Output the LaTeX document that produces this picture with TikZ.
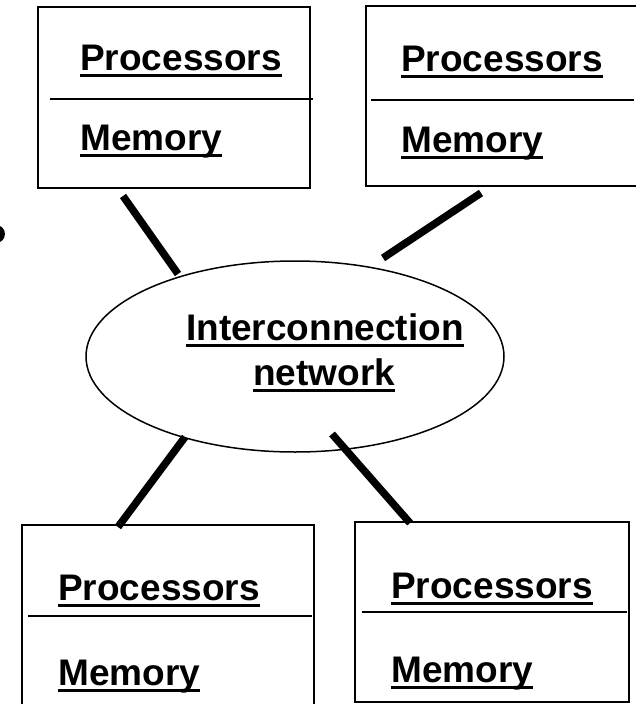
\documentclass[tikz,border=0pt]{standalone}
\usepackage{fontspec}
\setmainfont{Liberation Sans}
\usetikzlibrary{shapes.geometric}
% bold text with a heavy underline, as in the slide
\newcommand\heavyul[1]{\setbox0=\hbox{#1}\rlap{\rule[-7pt]{\wd0}{3.5pt}}\box0}
\tikzset{
  unitbox/.style={draw, line width=2pt, rectangle, inner sep=0pt},
  divider/.style={line width=1.7pt},
  label/.style={anchor=base west, inner sep=0pt, font=\fontsize{37}{44}\selectfont\bfseries},
  link/.style={line width=7.5pt, line cap=butt},
  netshape/.style={draw, ellipse, line width=1.5pt, inner sep=0pt,
    minimum width=418pt, minimum height=191pt}
}
\begin{document}
\begin{tikzpicture}[x=1pt, y=-1pt]
\useasboundingbox (0,0) rectangle (636,704);
\clip (0,0) rectangle (636,704);

% partial mark at the left edge
\fill (-4,234) circle (9);

% processor/memory units
\node[unitbox, minimum width=272pt, minimum height=181pt] (u1) at (174,97.5) {};
\node[unitbox, minimum width=294pt, minimum height=180pt] (u2) at (513,96) {};
\node[unitbox, minimum width=292pt, minimum height=195pt] (u3) at (168,622.5) {};
\node[unitbox, minimum width=274pt, minimum height=180pt] (u4) at (492,612) {};

% dividers between processor and memory parts
\coordinate (d1a) at (50,99);   \coordinate (d1b) at (313,99);
\coordinate (d2a) at (371,100); \coordinate (d2b) at (634,100);
\coordinate (d3a) at (28,616);  \coordinate (d3b) at (312,616);
\coordinate (d4a) at (362,612); \coordinate (d4b) at (627,612);
\draw[divider] (d1a) -- (d1b);
\draw[divider] (d2a) -- (d2b);
\draw[divider] (d3a) -- (d3b);
\draw[divider] (d4a) -- (d4b);

% labels
\node[label] (p1) at (80,70)  {\heavyul{Processors}};
\node[label] (m1) at (80,150) {\heavyul{Memory}};
\node[label] (p2) at (401,71) {\heavyul{Processors}};
\node[label] (m2) at (401,152) {\heavyul{Memory}};
\node[label] (p3) at (58,600) {\heavyul{Processors}};
\node[label] (m3) at (58,685) {\heavyul{Memory}};
\node[label] (p4) at (391,598) {\heavyul{Processors}};
\node[label] (m4) at (391,682) {\heavyul{Memory}};

% interconnection network
\node[netshape] (net) at (295,356.5) {};
\node[label] (n1) at (186,340) {\heavyul{Interconnection}};
\node[label] (n2) at (253,385) {\heavyul{network}};

% links between the units and the network
\coordinate (a1) at (123,196); \coordinate (b1) at (178,274);
\coordinate (a2) at (481,193); \coordinate (b2) at (383,258);
\coordinate (a3) at (118,527); \coordinate (b3) at (185,437);
\coordinate (a4) at (410,523); \coordinate (b4) at (332,434);
\draw[link] (a1) -- (b1);
\draw[link] (a2) -- (b2);
\draw[link] (a3) -- (b3);
\draw[link] (a4) -- (b4);
\end{tikzpicture}
\end{document}
